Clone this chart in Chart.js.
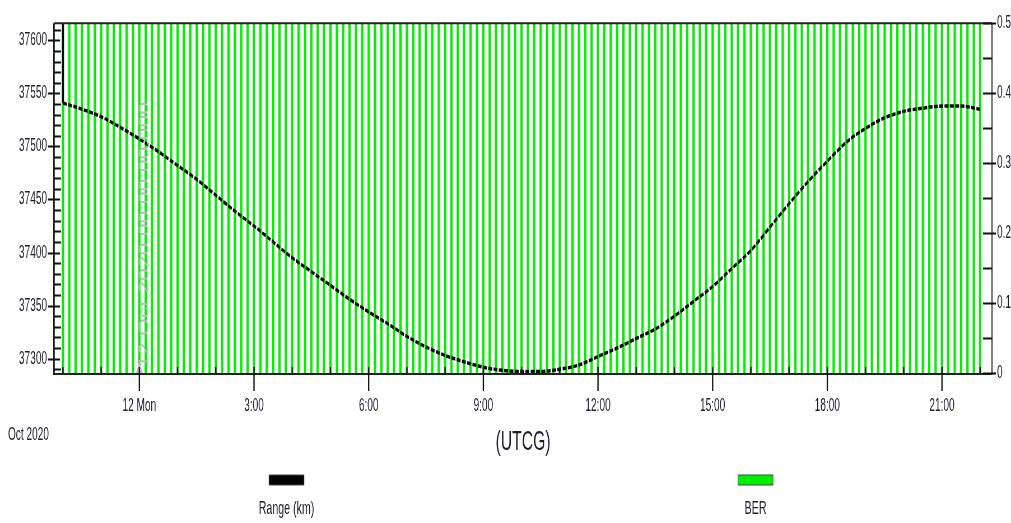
<!DOCTYPE html>
<html>
<head>
<meta charset="utf-8">
<title>Range (km) / BER</title>
<script src="https://cdn.jsdelivr.net/npm/chart.js@4.4.1/dist/chart.umd.min.js"></script>
<style>
  html, body { margin: 0; padding: 0; background: #fff; overflow: hidden; }
</style>
</head>
<body>
<canvas id="chart" width="1805" height="523" style="display:block;width:1011px;height:523px"></canvas>
<script>
// horas relativas a 12 Oct 2020 00:00 UTCG
const rangeHours = [
  -2, -1.5, -1, -0.5, 0, 0.5, 1, 1.5, 2, 2.5, 3, 3.5, 4, 4.5, 5, 5.5,
  6, 6.5, 7, 7.5, 8, 8.5, 9, 9.5, 10, 10.5, 11, 11.5, 12, 12.5, 13, 13.5,
  14, 14.5, 15, 15.5, 16, 16.5, 17, 17.5, 18, 18.5, 19, 19.5, 20, 20.5, 21, 21.5, 22,
];
const rangeKm = [
  37541, 37535, 37528, 37518, 37507, 37495, 37482, 37469, 37454, 37439, 37425, 37410, 37395, 37382, 37369, 37356,
  37344, 37333, 37321, 37311, 37303, 37297, 37292, 37289, 37288, 37288, 37290, 37294, 37302, 37310, 37319, 37328,
  37340, 37354, 37368, 37385, 37402, 37424, 37446, 37467, 37486, 37504, 37517, 37527, 37533, 37536, 37538, 37538, 37535,
];
// the trace starts with a vertical jump from off-scale at 22:00
const rangeStartKm = [37541, 37700];

// BER spikes (minutes from 12 Oct 00:00)
const berMinutes = [
  -120, -110, -100, -90, -80, -70, -60, -50, -40, -30, -20, -10,
  0, 10, 20, 30, 40, 50, 60, 70, 80, 90, 100, 110,
  120, 130, 140, 150, 160, 170, 180, 190, 200, 210, 220, 230,
  240, 250, 260, 270, 280, 290, 300, 310, 320, 330, 340, 350,
  360, 370, 380, 390, 400, 410, 420, 430, 440, 450, 460, 470,
  480, 490, 500, 510, 520, 530, 540, 550, 560, 570, 580, 590,
  600, 610, 620, 630, 640, 650, 660, 670, 680, 690, 700, 710,
  720, 730, 740, 750, 760, 770, 780, 790, 800, 810, 820, 830,
  840, 850, 860, 870, 880, 890, 900, 910, 920, 930, 940, 950,
  960, 970, 980, 990, 1000, 1010, 1020, 1030, 1040, 1050, 1060, 1070,
  1080, 1090, 1100, 1110, 1120, 1130, 1140, 1150, 1160, 1170, 1180, 1190,
  1200, 1210, 1220, 1230, 1240, 1250, 1260, 1270, 1280, 1290, 1300, 1310,
  1320,
];
const berValues = [
  0.5, 0.5, 0.5, 0.5, 0.5, 0.5, 0.5, 0.5, 0.5, 0.5, 0.5, 0.5,
  0.5, 0.5, 0.5, 0.5, 0.5, 0.5, 0.5, 0.5, 0.5, 0.5, 0.5, 0.5,
  0.5, 0.5, 0.5, 0.5, 0.5, 0.5, 0.5, 0.5, 0.5, 0.5, 0.5, 0.5,
  0.5, 0.5, 0.5, 0.5, 0.5, 0.5, 0.5, 0.5, 0.5, 0.5, 0.5, 0.5,
  0.5, 0.5, 0.5, 0.5, 0.5, 0.5, 0.5, 0.5, 0.5, 0.5, 0.5, 0.5,
  0.5, 0.5, 0.5, 0.5, 0.5, 0.5, 0.5, 0.5, 0.5, 0.5, 0.5, 0.5,
  0.5, 0.5, 0.5, 0.5, 0.5, 0.5, 0.5, 0.5, 0.5, 0.5, 0.5, 0.5,
  0.5, 0.5, 0.5, 0.5, 0.5, 0.5, 0.5, 0.5, 0.5, 0.5, 0.5, 0.5,
  0.5, 0.5, 0.5, 0.5, 0.5, 0.5, 0.5, 0.5, 0.5, 0.5, 0.5, 0.5,
  0.5, 0.5, 0.5, 0.5, 0.5, 0.5, 0.5, 0.5, 0.5, 0.5, 0.5, 0.5,
  0.5, 0.5, 0.5, 0.5, 0.5, 0.5, 0.5, 0.5, 0.5, 0.5, 0.5, 0.5,
  0.5, 0.5, 0.5, 0.5, 0.5, 0.5, 0.5, 0.5, 0.5, 0.5, 0.5, 0.5,
  0.5,
];

const xTickLabels = { 0: "12 Mon", 3: "3:00", 6: "6:00", 9: "9:00", 12: "12:00", 15: "15:00", 18: "18:00", 21: "21:00" };
const dateLabel = "Oct 2020";
const axisTitle = "(UTCG)";
const markerText = "12 Oct 2020 00:00:00.000";

// the original picture is squeezed sideways, so the canvas is drawn wide and scaled down by css
const W = 1805;
const K = 1011 / W;
const px = (v) => v / K; // screen px -> canvas px (horizontal only)

Chart.defaults.font.family = '"Liberation Sans", Arial, sans-serif';
Chart.defaults.color = "#1e1e30";

// ticks, frame, marker text and legend, drawn like STK does it
const stkDecor = {
  id: "stkDecor",
  afterDatasetsDraw(chart) {
    const { ctx, chartArea: a } = chart;
    ctx.save();
    // rotated epoch marker
    const x0 = chart.scales.x.getPixelForValue(0);
    ctx.fillStyle = "#bdbdbd";
    ctx.beginPath();
    ctx.moveTo(x0, 362);
    ctx.lineTo(x0 - px(3.5), a.bottom);
    ctx.lineTo(x0 + px(3.5), a.bottom);
    ctx.closePath();
    ctx.fill();
    ctx.translate(x0 + px(5.7), 368);
    ctx.rotate(-Math.PI / 2);
    ctx.font = '23px "Liberation Sans", Arial, sans-serif';
    ctx.textAlign = "left";
    ctx.textBaseline = "middle";
    ctx.fillText(markerText, 0, 0);
    ctx.restore();

    // frame
    ctx.save();
    ctx.strokeStyle = "#222";
    ctx.lineWidth = 2;
    ctx.beginPath();
    ctx.moveTo(a.left, a.top);
    ctx.lineTo(a.right, a.top);
    ctx.moveTo(a.left, a.bottom + 1);
    ctx.lineTo(a.right, a.bottom + 1);
    ctx.stroke();
    ctx.lineWidth = px(1.5);
    ctx.strokeStyle = "#111";
    ctx.beginPath();
    ctx.moveTo(a.left, a.top);
    ctx.lineTo(a.left, a.bottom + 2);
    ctx.stroke();
    ctx.strokeStyle = "#555";
    ctx.beginPath();
    ctx.moveTo(a.right, a.top);
    ctx.lineTo(a.right, a.bottom + 2);
    ctx.stroke();
    ctx.restore();
  },
  afterDraw(chart) {
    const { ctx, chartArea: a, scales } = chart;
    ctx.save();
    ctx.strokeStyle = "#111";

    // left axis ticks
    ctx.lineWidth = 2;
    scales.y.ticks.forEach((t) => {
      const y = Math.round(scales.y.getPixelForValue(t.value)) + 0.5;
      const major = t.value % 50 === 0;
      ctx.beginPath();
      ctx.moveTo(major ? a.left - px(6) : a.left, y);
      ctx.lineTo(a.left + px(major ? 6 : 7), y);
      ctx.stroke();
    });
    // right axis ticks
    scales.y1.ticks.forEach((t) => {
      const y = Math.round(scales.y1.getPixelForValue(t.value)) + 0.5;
      const major = Math.round(t.value * 100) % 10 === 0;
      ctx.beginPath();
      ctx.moveTo(a.right - px(9), y);
      ctx.lineTo(major ? a.right + px(4) : a.right, y);
      ctx.stroke();
    });
    // time ticks
    ctx.lineWidth = px(1.3);
    scales.x.ticks.forEach((t) => {
      const x = scales.x.getPixelForValue(t.value);
      ctx.beginPath();
      ctx.moveTo(x, a.bottom - 6);
      ctx.lineTo(x, a.bottom);
      if (t.value % 3 === 0) ctx.lineTo(x, a.bottom + 18);
      ctx.stroke();
    });

    // texts under the axis
    ctx.fillStyle = "#1e1e30";
    ctx.textBaseline = "middle";
    ctx.font = '18px "Liberation Sans", Arial, sans-serif';
    ctx.textAlign = "left";
    ctx.fillText(dateLabel, px(8), 435);
    ctx.font = '28px "Liberation Sans", Arial, sans-serif';
    ctx.textAlign = "center";
    ctx.fillText(axisTitle, (a.left + a.right) / 2, 442);

    // legend
    const items = [
      { ds: chart.data.datasets[1], cx: px(286.5) },
      { ds: chart.data.datasets[0], cx: px(755.5) },
    ];
    ctx.font = '19px "Liberation Sans", Arial, sans-serif';
    items.forEach(({ ds, cx }) => {
      const w = px(35);
      ctx.fillStyle = ds.legendColor;
      ctx.fillRect(cx - w / 2, 475, w, 10);
      ctx.strokeStyle = "#444";
      ctx.lineWidth = 1;
      ctx.strokeRect(cx - w / 2, 475, w, 10);
      ctx.fillStyle = "#1e1e30";
      ctx.fillText(ds.label, cx, 509);
    });
    ctx.restore();
  },
};

const ctx = document.getElementById("chart").getContext("2d");
new Chart(ctx, {
  type: "line",
  data: {
    datasets: [
      {
        type: "bar",
        label: "BER",
        legendColor: "#00f000",
        data: berMinutes.map((m, i) => ({ x: m / 60, y: berValues[i] })),
        backgroundColor: "#00f000",
        borderWidth: 0,
        barThickness: px(2),
        xAxisID: "x",
        yAxisID: "y1",
        order: 3,
      },
      {
        label: "Range (km)",
        legendColor: "#000",
        data: rangeHours.map((h, i) => ({ x: h, y: rangeKm[i] })),
        borderColor: "#0a0a0a",
        borderWidth: 3.5,
        borderDash: [7, 2.5],
        cubicInterpolationMode: "monotone",
        pointRadius: 0,
        yAxisID: "y",
        order: 1,
        clip: 0,
      },
      {
        label: "start",
        data: rangeStartKm.map((v) => ({ x: rangeHours[0], y: v })),
        borderColor: "#0a0a0a",
        borderWidth: px(2),
        pointRadius: 0,
        yAxisID: "y",
        order: 2,
        clip: 0,
      },
    ],
  },
  options: {
    responsive: false,
    animation: false,
    events: [],
    layout: { padding: { top: 15, left: 0, right: 0, bottom: 0 } },
    plugins: { legend: { display: false }, tooltip: { enabled: false } },
    scales: {
      x: {
        type: "linear",
        position: "bottom",
        offset: false,
        min: -2.233,
        max: 22.309,
        afterFit: (s) => { s.height = 150; },
        grid: { display: false, drawTicks: false },
        border: { display: false },
        ticks: {
          stepSize: 1,
          autoSkip: false,
          includeBounds: false,
          maxRotation: 0,
          padding: 22,
          font: { size: 18 },
          callback: (v) => xTickLabels[v] || "",
        },
      },
      y: {
        position: "left",
        min: 37286.5,
        max: 37616,
        afterFit: (s) => { s.width = px(54); },
        grid: { display: false, drawTicks: false },
        border: { display: false },
        ticks: {
          stepSize: 10,
          autoSkip: false,
          includeBounds: false,
          padding: px(7),
          font: { size: 18 },
          callback: (v) => (v % 50 === 0 ? String(v) : ""),
        },
      },
      y1: {
        position: "right",
        min: 0,
        max: 0.5,
        afterFit: (s) => { s.width = W - px(992); },
        grid: { display: false, drawTicks: false },
        border: { display: false },
        ticks: {
          stepSize: 0.05,
          autoSkip: false,
          includeBounds: false,
          padding: px(5),
          font: { size: 18 },
          callback: (v) => {
            const r = Math.round(v * 100);
            return r % 10 === 0 ? String(r / 100) : "";
          },
        },
      },
    },
  },
  plugins: [stkDecor],
});
</script>
</body>
</html>
